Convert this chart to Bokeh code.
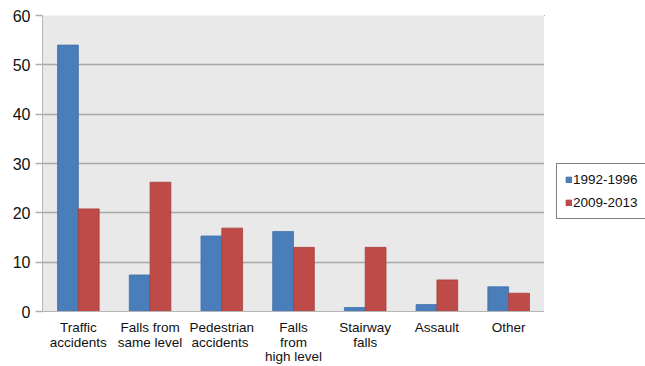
from bokeh.plotting import figure
from bokeh.layouts import row
from bokeh.models import (ColumnDataSource, FactorRange, Range1d, Legend, LegendItem,
                          SingleIntervalTicker, CategoricalAxis)
from bokeh.transform import dodge
from bokeh.embed import file_html
from bokeh.resources import INLINE

categories = ["Traffic accidents", "Falls from same level", "Pedestrian accidents",
              "Falls from high level", "Stairway falls", "Assault", "Other"]
tick_labels = ["Traffic\naccidents", "Falls from\nsame level", "Pedestrian\naccidents",
               "Falls\nfrom\nhigh level", "Stairway\nfalls", "Assault", "Other"]
series_names = ["1992-1996", "2009-2013"]
values_1992_1996 = [54.0, 7.4, 15.3, 16.2, 0.8, 1.4, 5.0]
values_2009_2013 = [20.8, 26.2, 16.9, 13.0, 13.0, 6.4, 3.7]

FONT = "Liberation Sans"
BLUE = "#4a7ebb"
RED = "#be4b48"
TXT = "#111111"

src = ColumnDataSource(dict(cat=categories, a=values_1992_1996, b=values_2009_2013))

# one factor list per text line of the tick labels (made unique with trailing spaces)
lines = [t.split("\n") for t in tick_labels]
n_lines = max(len(l) for l in lines)
line_factors = []
for i in range(n_lines):
    seen, facs = set(), []
    for l in lines:
        f = l[i] if i < len(l) else " "
        while f in seen:
            f = f + " "
        seen.add(f)
        facs.append(f)
    line_factors.append(facs)

p = figure(width=544, height=366, x_range=FactorRange(*categories), y_range=Range1d(0, 60),
           output_backend="svg", toolbar_location=None,
           min_border_left=42, min_border_right=0, min_border_top=15, min_border_bottom=0)
p.border_fill_color = "#ffffff"
p.outline_line_color = None
p.background_fill_color = "#e9e9e9"

r1 = p.vbar(x=dodge("cat", -0.145, range=p.x_range), top="a", width=0.29, source=src,
            fill_color=BLUE, line_color="#3f6ea8", line_width=0.8)
r2 = p.vbar(x=dodge("cat", 0.145, range=p.x_range), top="b", width=0.29, source=src,
            fill_color=RED, line_color="#a63f3c", line_width=0.8)

p.xgrid.grid_line_color = None
p.ygrid.grid_line_color = "#a8a8a8"
p.ygrid.grid_line_width = 1.5
p.yaxis.ticker = SingleIntervalTicker(interval=10)

p.yaxis.axis_line_color = "#b5b5b5"
p.yaxis.major_tick_line_color = "#b0b0b0"
p.yaxis.major_tick_line_width = 1.5
p.yaxis.major_tick_out = 7
p.yaxis.major_tick_in = 0
p.yaxis.minor_tick_line_color = None
p.yaxis.major_label_text_font = FONT
p.yaxis.major_label_text_font_size = "16px"
p.yaxis.major_label_text_color = TXT
p.yaxis.major_label_standoff = 5

main_x = p.xaxis[0]
main_x.axis_line_color = "#b5b5b5"
main_x.major_tick_line_color = None
main_x.major_tick_out = 0
main_x.major_tick_in = 0
main_x.major_label_text_font_size = "0px"
main_x.major_label_text_color = None
main_x.major_label_standoff = 0

standoffs = [8, -3, -4]
for i in range(n_lines):
    name = "line%d" % i
    p.extra_x_ranges[name] = FactorRange(*line_factors[i])
    ax = CategoricalAxis(x_range_name=name)
    ax.axis_line_color = None
    ax.major_tick_line_color = None
    ax.major_tick_out = 0
    ax.major_tick_in = 0
    ax.major_label_text_font = FONT
    ax.major_label_text_font_size = "13.5px"
    ax.major_label_text_color = TXT
    ax.major_label_standoff = standoffs[i]
    p.add_layout(ax, "below")

# legend panel on the right
p2 = figure(width=101, height=366, x_range=Range1d(0, 1), y_range=Range1d(0, 1),
            output_backend="svg", toolbar_location=None,
            min_border_left=0, min_border_right=0, min_border_top=0, min_border_bottom=0)
p2.axis.visible = False
p2.grid.visible = False
p2.outline_line_color = None
p2.background_fill_color = "#ffffff"
p2.border_fill_color = "#ffffff"
# off-screen proxies, only used to draw the legend swatches
l1 = p2.vbar(x=[-5], bottom=[5], top=[6], width=0.1, fill_color=BLUE, line_color="#3f6ea8")
l2 = p2.vbar(x=[-5], bottom=[5], top=[6], width=0.1, fill_color=RED, line_color="#a63f3c")

legend = Legend(items=[LegendItem(label=series_names[0], renderers=[l1]),
                       LegendItem(label=series_names[1], renderers=[l2])],
                location=(12, 92))
legend.border_line_color = "#000000"
legend.border_line_width = 1
legend.background_fill_color = "#ffffff"
legend.background_fill_alpha = 1
legend.label_text_font = FONT
legend.label_text_font_size = "13.5px"
legend.label_text_color = TXT
legend.glyph_width = 7
legend.glyph_height = 7
legend.label_standoff = 1
legend.padding = 8
legend.spacing = 8
legend.margin = 0
legend.label_height = 15
p2.add_layout(legend, "center")

layout = row(p, p2, spacing=0)
open("out.html", "w").write(file_html(layout, INLINE))
